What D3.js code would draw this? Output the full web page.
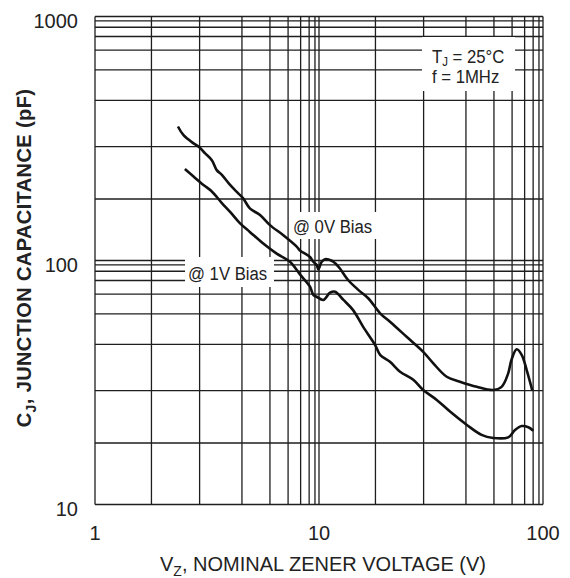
<!DOCTYPE html>
<html>
<head>
<meta charset="utf-8">
<script src="https://cdn.jsdelivr.net/npm/d3@7"></script>
<style>
  body { margin: 0; background: #fff; }
  text { font-family: "Liberation Sans", Arial, sans-serif; fill: #222; }
</style>
</head>
<body>
<div id="wrapper"></div>
<script>
// zener voltage (V) / junction capacitance (pF)
const bias0V_vz = [2.5, 2.62, 2.85, 3.0, 3.11, 3.26, 3.37, 3.49, 3.69, 3.9, 4.04, 4.26, 4.62, 5.0, 5.72, 6.67, 6.94, 8.14, 8.7, 9.41, 9.82, 10.34, 10.76, 11.7, 12.2, 12.9, 14.3, 16.2, 18.3, 20.8, 22.6, 26, 29.9, 32, 35.1, 38.4, 43.6, 49.7, 54, 57.7, 59.6, 63.5, 67.5, 72.3, 79];
const bias0V_cj = [340, 322, 306, 298, 285, 270, 250, 241, 223, 209, 201, 180, 167, 149, 133, 117, 112, 104, 97, 90, 83, 97, 101.5, 99.5, 93.5, 84.5, 70.5, 63, 57.8, 50.3, 47.2, 42.3, 38.2, 35.6, 32.7, 31.7, 30.7, 30.1, 30.7, 33.4, 36.3, 38.8, 37.5, 34.1, 30];

const bias1V_vz = [2.65, 2.85, 3.08, 3.26, 3.49, 3.69, 3.95, 4.26, 4.74, 5.35, 6.14, 6.94, 8.14, 8.7, 9.41, 10.54, 11.45, 12.18, 13.5, 15.2, 17.2, 19.9, 20.8, 22.6, 24.6, 27.5, 29.9, 32.8, 35.9, 40.3, 45.3, 49.7, 57.7, 62.2, 67.5, 74.2, 80.3];
const bias1V_cj = [252, 238, 223, 212, 191, 173, 152, 138, 121, 108, 97, 76.5, 65.3, 59.6, 58.6, 56.9, 61, 61.7, 56.9, 51.8, 45.5, 39.9, 37.5, 35.9, 33.75, 32.1, 30.1, 27.9, 25.5, 23, 21.3, 20.8, 20.9, 22.1, 22.8, 22.6, 22];

const xTickValues = [1, 10, 100];
const xTickLabels = ["1", "10", "100"];
const yTickValues = [10, 100, 1000];
const yTickLabels = ["10", "100", "1000"];

const width = 570, height = 578;
const plotLeft = 95, plotRight = 543, plotTop = 16.5, plotBottom = 504.5;

// the printed grid paper spaces its lines unevenly inside each decade
const decadeFrac = [0, 0.252, 0.467, 0.656, 0.781, 0.862, 0.918, 0.956, 0.982];

const xGrid = [1, 10].flatMap(d => d3.range(1, 10).map(k => k * d)).concat(100);
const yGrid = [10, 100].flatMap(d => d3.range(1, 10).map(k => k * d)).concat(1000);

const xDec = (plotRight - plotLeft) / 2;
const yDec = (plotBottom - plotTop) / 2;

const xScale = d3.scaleLog()
	.domain(xGrid)
	.range(xGrid.map((v, i) => plotLeft + xDec * (Math.floor(i / 9) + decadeFrac[i % 9])));

const yScale = d3.scaleLog()
	.domain(yGrid)
	.range(yGrid.map((v, i) => plotBottom - yDec * (Math.floor(i / 9) + decadeFrac[i % 9])));

const svg = d3.select("#wrapper")
	.append("svg")
	.attr("width", width)
	.attr("height", height);

svg.append("rect").attr("width", width).attr("height", height).attr("fill", "#fff");

const grid = svg.append("g")
	.attr("stroke", "#1e1e1e")
	.attr("stroke-width", 1.3);

grid.selectAll("line.vx")
	.data(xGrid)
	.enter().append("line")
	.attr("x1", d => xScale(d)).attr("x2", d => xScale(d))
	.attr("y1", plotTop).attr("y2", plotBottom);

grid.selectAll("line.hy")
	.data(yGrid)
	.enter().append("line")
	.attr("y1", d => yScale(d)).attr("y2", d => yScale(d))
	.attr("x1", plotLeft).attr("x2", plotRight);

// white boxes behind the notes
const boxes = [
	{x: 422, y: 37, w: 93, h: 54},
	{x: 290, y: 212, w: 88, h: 27},
	{x: 185, y: 257, w: 89, h: 30}
];
svg.selectAll("rect.box")
	.data(boxes)
	.enter().append("rect")
	.attr("x", d => d.x).attr("y", d => d.y)
	.attr("width", d => d.w).attr("height", d => d.h)
	.attr("fill", "#fff");

// tick labels
svg.selectAll("text.xt")
	.data(xTickValues)
	.enter().append("text")
	.attr("x", d => xScale(d))
	.attr("y", 540)
	.attr("text-anchor", "middle")
	.style("font-size", "20px")
	.text((d, i) => xTickLabels[i]);

svg.selectAll("text.yt")
	.data(yTickValues)
	.enter().append("text")
	.attr("x", 78)
	.attr("y", d => yScale(d) + 11)
	.attr("text-anchor", "end")
	.style("font-size", "20px")
	.text((d, i) => yTickLabels[i]);

// axis titles
const xTitle = svg.append("text")
	.attr("x", 323)
	.attr("y", 571)
	.attr("text-anchor", "middle")
	.style("font-size", "20px");
xTitle.append("tspan").text("V");
xTitle.append("tspan").attr("dy", 5).style("font-size", "14px").text("Z");
xTitle.append("tspan").attr("dy", -5).text(", NOMINAL ZENER VOLTAGE (V)");

const yTitle = svg.append("text")
	.attr("transform", "translate(31,258) rotate(-90)")
	.attr("text-anchor", "middle")
	.style("font-size", "20px")
	.style("letter-spacing", "0.4px")
	.style("font-weight", "bold");
yTitle.append("tspan").text("C");
yTitle.append("tspan").attr("dy", 5).style("font-size", "14px").text("J");
yTitle.append("tspan").attr("dy", -5).text(", JUNCTION CAPACITANCE (pF)");

// notes, set in a narrow face
function note(x, y) {
	return svg.append("text")
		.attr("transform", `translate(${x},${y}) scale(0.88,1)`)
		.style("font-size", "19px");
}
const tj = note(432, 62.7);
tj.append("tspan").text("T");
tj.append("tspan").attr("dy", 3).style("font-size", "13px").text("J");
tj.append("tspan").attr("dy", -3).text(" = 25°C");
note(432, 82.7).text("f = 1MHz");
note(293, 233).text("@ 0V Bias");
note(188, 280).text("@ 1V Bias");

// curves
const line = d3.line()
	.x(d => xScale(d[0]))
	.y(d => yScale(d[1]))
	.curve(d3.curveCatmullRom.alpha(0.5));

const series = [
	d3.zip(bias0V_vz, bias0V_cj),
	d3.zip(bias1V_vz, bias1V_cj)
];

svg.selectAll("path.curve")
	.data(series)
	.enter().append("path")
	.attr("d", line)
	.attr("fill", "none")
	.attr("stroke", "#111")
	.attr("stroke-width", 2.6)
	.attr("stroke-linejoin", "round");
</script>
</body>
</html>
